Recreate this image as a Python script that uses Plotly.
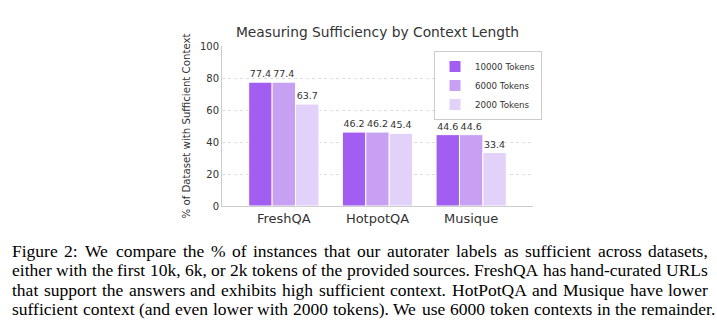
import plotly.graph_objects as go

# ---------------- data ----------------
datasets = ["FreshQA", "HotpotQA", "Musique"]
series_names = ["10000 Tokens", "6000 Tokens", "2000 Tokens"]
vals_10000 = [77.4, 46.2, 44.6]
vals_6000 = [77.4, 46.2, 44.6]
vals_2000 = [63.7, 45.4, 33.4]
y_ticks = [0, 20, 40, 60, 80, 100]

title_text = "Measuring Sufficiency by Context Length"
y_title = "% of Dataset with Sufficient Context"
caption_lines = [
    "Figure 2: We compare the % of instances that our autorater labels as sufficient across datasets,",
    "either with the first 10k, 6k, or 2k tokens of the provided sources. FreshQA has hand-curated URLs",
    "that support the answers and exhibits high sufficient context. HotPotQA and Musique have lower",
    "sufficient context (and even lower with 2000 tokens). We use 6000 token contexts in the remainder.",
]

# ---------------- styling ----------------
colors = ["#a25ef0", "#c8a0f3", "#e2d1f9"]
W, H = 717, 331
L, R, T, B = 222, 184, 46, 125
PW, PH = W - L - R, H - T - B
SANS = "DejaVu Sans"

def px_x(xp):
    return (xp - L) / PW

def px_y(yp):
    return (H - B - yp) / PH

fig = go.Figure()
for name, vals, col in zip(series_names, [vals_10000, vals_6000, vals_2000], colors):
    fig.add_trace(go.Bar(
        x=datasets, y=vals, name=name,
        marker=dict(color=col, line=dict(color="white", width=1)),
        text=[f"{v:.1f}" for v in vals], textposition="outside",
        textfont=dict(family=SANS, size=9.5, color="#333333"),
        constraintext="none", cliponaxis=False,
    ))

fig.update_layout(
    width=W, height=H,
    margin=dict(l=L, r=R, t=T, b=B, pad=0),
    paper_bgcolor="white", plot_bgcolor="white",
    barmode="group", bargap=0.25, bargroupgap=0,
    font=dict(family=SANS, color="#333333"),
    title=dict(text=title_text, x=(L + PW / 2) / W, xanchor="center",
               y=1 - 32 / H, yanchor="middle",
               font=dict(family=SANS, size=13.8, color="#333333")),
    legend=dict(x=px_x(434), y=px_y(51), xanchor="left", yanchor="top",
                bordercolor="#cccccc", borderwidth=1, bgcolor="white",
                font=dict(family=SANS, size=8.7, color="#333333"),
                itemwidth=30, tracegroupgap=0),
    showlegend=True,
)
fig.update_xaxes(range=[-0.66, 2.66], showgrid=False, showline=True,
                 linecolor="#cccccc", linewidth=1, ticks="",
                 tickfont=dict(family=SANS, size=13, color="#333333"),
                 fixedrange=True)
fig.update_yaxes(range=[0, 100], tickvals=y_ticks, showgrid=True,
                 gridcolor="#dddddd", griddash="dot", gridwidth=1,
                 zeroline=False, showline=True, linecolor="#cccccc", linewidth=1,
                 ticks="", tickfont=dict(family=SANS, size=10, color="#333333"),
                 title=dict(text=y_title, font=dict(family=SANS, size=10.2, color="#333333"),
                            standoff=7))

# ---------------- caption (justified, Times metrics) ----------------
TIMES = {' ': 250, '%': 833, '(': 333, ')': 333, ',': 250, '-': 333, '.': 250, ':': 278,
         '0': 500, '1': 500, '2': 500, '3': 500, '4': 500, '5': 500, '6': 500, '7': 500, '8': 500, '9': 500,
         'A': 722, 'B': 667, 'C': 667, 'D': 722, 'E': 611, 'F': 556, 'G': 722, 'H': 722, 'I': 333,
         'J': 389, 'K': 722, 'L': 611, 'M': 889, 'N': 722, 'O': 722, 'P': 556, 'Q': 722, 'R': 667,
         'S': 556, 'T': 611, 'U': 722, 'V': 722, 'W': 944, 'X': 722, 'Y': 722, 'Z': 611,
         'a': 444, 'b': 500, 'c': 444, 'd': 500, 'e': 444, 'f': 333, 'g': 500, 'h': 500, 'i': 278,
         'j': 278, 'k': 500, 'l': 278, 'm': 778, 'n': 500, 'o': 500, 'p': 500, 'q': 500, 'r': 333,
         's': 389, 't': 278, 'u': 500, 'v': 500, 'w': 722, 'x': 500, 'y': 500, 'z': 444}
CAP_SIZE = 17.5
CAP_X0, CAP_X1 = 12, 708
baselines = [256, 275.5, 295, 314.5]

def wwidth(w):
    return sum(TIMES.get(c, 500) for c in w) * CAP_SIZE / 1000

for li, (line, base) in enumerate(zip(caption_lines, baselines)):
    words = line.split(" ")
    widths = [wwidth(w) for w in words]
    last = li == len(caption_lines) - 1
    if last:
        gap = (TIMES[' '] + 20) * CAP_SIZE / 1000
    else:
        gap = (CAP_X1 - CAP_X0 - sum(widths)) / (len(words) - 1)
    xpos = CAP_X0
    yc = base - 0.3 * CAP_SIZE
    for wi, (w, ww) in enumerate(zip(words, widths)):
        if (not last) and wi == len(words) - 1:
            ax, anchor = CAP_X1, "right"
        else:
            ax, anchor = xpos, "left"
        fig.add_annotation(text=w, x=px_x(ax), y=px_y(yc), xref="paper", yref="paper",
                           xanchor=anchor, yanchor="middle", showarrow=False,
                           borderpad=0, borderwidth=0,
                           font=dict(family="Liberation Serif", size=CAP_SIZE, color="black"))
        xpos += ww + gap

fig.write_html("out.html")
